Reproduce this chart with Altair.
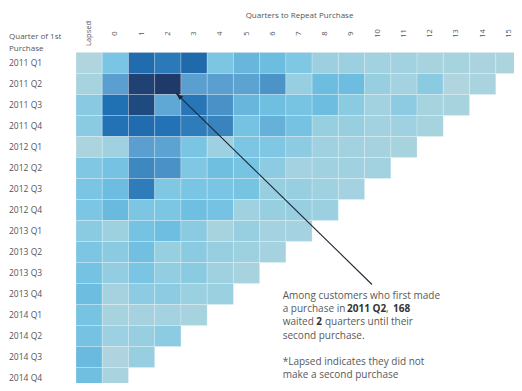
import altair as alt
import pandas as pd

# ---------------- data ----------------
rows = ["2011 Q1", "2011 Q2", "2011 Q3", "2011 Q4",
        "2012 Q1", "2012 Q2", "2012 Q3", "2012 Q4",
        "2013 Q1", "2013 Q2", "2013 Q3", "2013 Q4",
        "2014 Q1", "2014 Q2", "2014 Q3", "2014 Q4"]
cols = ["Lapsed"] + [str(i) for i in range(16)]

# values per cohort row, in column order Lapsed, 0, 1, ...
v_2011_q1 = [28, 68, 137, 127, 138, 67, 82, 78, 64, 45, 45, 40, 40, 36, 36, 34, 32]
v_2011_q2 = [36, 95, 162, 168, 95, 95, 93, 105, 48, 78, 78, 48, 38, 57, 28, 35]
v_2011_q3 = [58, 135, 155, 90, 130, 107, 82, 76, 70, 78, 57, 40, 56, 36, 36]
v_2011_q4 = [57, 133, 137, 133, 125, 118, 72, 85, 72, 48, 48, 40, 42, 36]
v_2012_q1 = [32, 42, 95, 93, 68, 44, 66, 64, 56, 42, 40, 37, 36]
v_2012_q2 = [65, 72, 115, 107, 64, 76, 70, 56, 38, 42, 42, 40]
v_2012_q3 = [68, 78, 125, 64, 68, 68, 70, 48, 48, 42, 38]
v_2012_q4 = [66, 80, 66, 66, 76, 72, 42, 48, 48, 46]
v_2013_q1 = [57, 43, 72, 77, 57, 36, 48, 38, 38]
v_2013_q2 = [66, 57, 74, 48, 57, 48, 43, 37]
v_2013_q3 = [72, 52, 68, 52, 57, 42, 36]
v_2013_q4 = [78, 37, 56, 56, 46, 46]
v_2014_q1 = [70, 36, 37, 38, 36]
v_2014_q2 = [72, 44, 48, 56]
v_2014_q3 = [80, 30, 48]
v_2014_q4 = [75, 35]

series = [v_2011_q1, v_2011_q2, v_2011_q3, v_2011_q4,
          v_2012_q1, v_2012_q2, v_2012_q3, v_2012_q4,
          v_2013_q1, v_2013_q2, v_2013_q3, v_2013_q4,
          v_2014_q1, v_2014_q2, v_2014_q3, v_2014_q4]

records = []
for r, vals in zip(rows, series):
    for c, v in zip(cols, vals):
        records.append({"cohort": r, "quarters": c, "value": v})
df = pd.DataFrame(records)

# colour ramp
color_domain = [28, 48, 66, 78, 95, 118, 135, 155, 168]
color_range = ["#b1d5df", "#98cfe0", "#7dc6e3", "#6cbde0", "#5a9fd0",
               "#3a84be", "#2070b4", "#1f4a80", "#1f3a68"]

GREY = "#555555"
FONT = "Open Sans"

x_scale = alt.Scale(domain=cols, paddingInner=0, paddingOuter=0)
y_scale = alt.Scale(domain=rows, paddingInner=0, paddingOuter=0)

x_axis = alt.Axis(orient="top", title="Quarters to Repeat Purchase",
                  labelAngle=270, labelAlign="center", labelBaseline="middle",
                  labelPadding=19.5, ticks=False, tickSize=0, domain=False,
                  grid=False, labelFontSize=7.5, labelColor=GREY, labelFont=FONT,
                  titleFontSize=8, titleColor=GREY, titleFont=FONT,
                  titleFontWeight="normal", titleBaseline="alphabetic",
                  titleAlign="center", titleX=223, titleY=-35.5)
y_axis = alt.Axis(orient="left", title=["Quarter of 1st", "Purchase"],
                  titleAngle=0, titleAlign="left", titleBaseline="alphabetic",
                  titleX=-67.5, titleY=-14, titleLineHeight=11.5,
                  titleFontSize=8, titleFontWeight="normal", titleColor=GREY,
                  titleFont=FONT, labelAlign="left", labelBaseline="middle",
                  labelPadding=67.5, labelFontSize=8.5, labelColor=GREY,
                  labelFont=FONT, ticks=False, tickSize=0, domain=False, grid=False)

heat = alt.Chart(df).mark_rect(stroke="white", strokeWidth=0.5, strokeOpacity=0.45).encode(
    x=alt.X("quarters:N", sort=cols, scale=x_scale, axis=x_axis),
    y=alt.Y("cohort:N", sort=rows, scale=y_scale, axis=y_axis),
    color=alt.Color("value:Q", scale=alt.Scale(domain=color_domain, range=color_range,
                                               interpolate="rgb"), legend=None),
)

target = alt.Chart(df).transform_filter(
    (alt.datum.cohort == "2011 Q2") & (alt.datum.quarters == "2"))

ARROW = "#1b2636"
arrow_line = target.mark_rule(color=ARROW, strokeWidth=1.1).encode(
    x=alt.X("quarters:N", sort=cols, scale=x_scale, axis=x_axis, bandPosition=0.81),
    y=alt.Y("cohort:N", sort=rows, scale=y_scale, axis=y_axis, bandPosition=0.93),
    x2=alt.value(296), y2=alt.value(232),
)
arrow_head = target.mark_point(shape="M0,0L-0.8,2.4L0.8,2.4Z", size=40, angle=314,
                               filled=True, color=ARROW, opacity=1, strokeWidth=0).encode(
    x=alt.X("quarters:N", sort=cols, scale=x_scale, axis=x_axis, bandPosition=0.81),
    y=alt.Y("cohort:N", sort=rows, scale=y_scale, axis=y_axis, bandPosition=0.93),
)


def txt(s, x, y, bold=False):
    return alt.Chart(alt.Data(values=[{}])).mark_text(
        text=s, align="left", baseline="middle", font=FONT, fontSize=10,
        fontWeight="bold" if bold else "normal",
        color="#333333" if bold else "#595959",
    ).encode(x=alt.value(x), y=alt.value(y))


X0 = 206.7
L = [243.5, 256.7, 269.9, 283.1, 309.5, 322.7]
notes = [
    txt("Among customers who first made", X0, L[0]),
    txt("a purchase in", X0, L[1]),
    txt("2011 Q2", 271, L[1], True),
    txt(",", 310, L[1]),
    txt("168", 317, L[1], True),
    txt("waited", X0, L[2]),
    txt("2", 240.3, L[2], True),
    txt("quarters until their", 249, L[2]),
    txt("second purchase.", X0, L[3]),
    txt("*Lapsed indicates they did not", X0, L[4]),
    txt("make a second purchase", X0, L[5]),
]

chart = alt.layer(heat, arrow_line, arrow_head, *notes).properties(
    width=446, height=336,
    autosize=alt.AutoSizeParams(type="none"),
    padding={"left": 68, "top": 44.5, "right": -8, "bottom": -6},
).configure_view(stroke=None).configure(font=FONT)

chart.save("out.html", embed_options={"renderer": "svg", "actions": False})
